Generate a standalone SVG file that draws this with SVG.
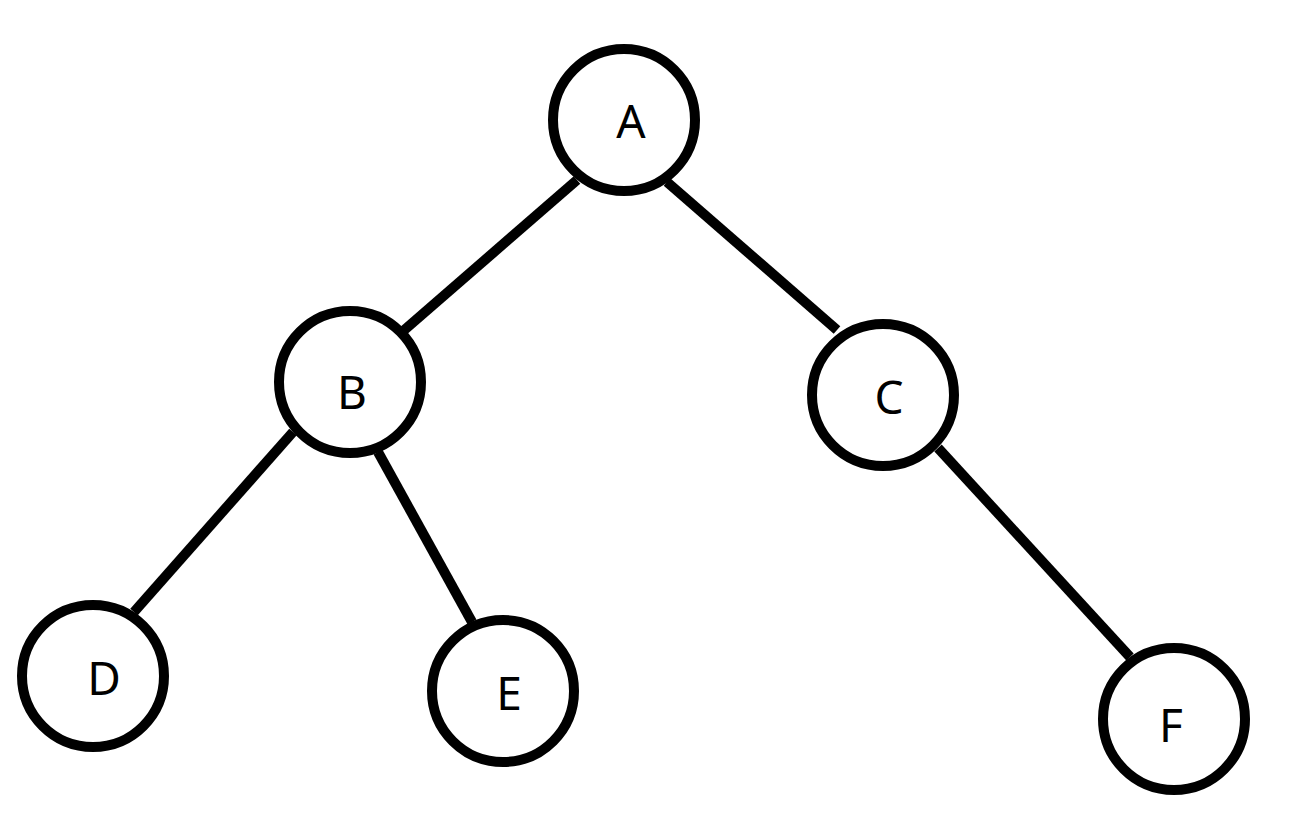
<svg xmlns="http://www.w3.org/2000/svg" width="1316" height="836" viewBox="0 0 1316 836">
<style>
.node circle{fill:#fff;stroke:#000;stroke-width:10}
.node text{font-family:"Noto Sans","Liberation Sans",sans-serif;font-size:46px;fill:#000;text-anchor:middle}
.edges line{stroke:#000;stroke-width:10;stroke-linecap:butt}
</style>
<rect width="1316" height="836" fill="#fff"/>
<g id="connectors" class="edges">
<line x1="577" y1="180" x2="402" y2="332"/>
<line x1="667" y1="182" x2="837" y2="330"/>
<line x1="293" y1="432" x2="134" y2="612"/>
<line x1="378" y1="452" x2="472" y2="622"/>
<line x1="938" y1="448" x2="1130" y2="657"/>
</g>
<g id="node-A" class="node"><circle cx="624" cy="120" r="71"/><text x="631" y="138">A</text></g>
<g id="node-B" class="node"><circle cx="350" cy="382" r="71"/><text x="352" y="409">B</text></g>
<g id="node-C" class="node"><circle cx="883" cy="395" r="71"/><text x="889" y="414">C</text></g>
<g id="node-D" class="node"><circle cx="93" cy="676" r="71"/><text x="104" y="695">D</text></g>
<g id="node-E" class="node"><circle cx="503" cy="691" r="71"/><text x="509" y="710">E</text></g>
<g id="node-F" class="node"><circle cx="1174" cy="719" r="71"/><text x="1171" y="742">F</text></g>
</svg>
